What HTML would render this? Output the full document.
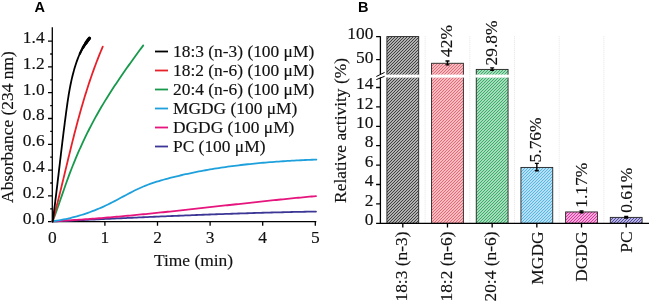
<!DOCTYPE html>
<html><head><meta charset="utf-8"><style>
html,body{margin:0;padding:0;background:#fff;width:649px;height:302px;overflow:hidden}
svg{display:block;will-change:transform}
text{font-family:"Liberation Serif",serif;font-size:17.4px;fill:#111;stroke:#111;stroke-width:0.15px}
.b{font-family:"Liberation Sans",sans-serif;font-weight:bold;font-size:14.5px;fill:#000;stroke:none}
</style></head><body>
<svg width="649" height="302" viewBox="0 0 649 302">
<defs>

<pattern id="pk" patternUnits="userSpaceOnUse" width="3" height="3"><rect width="3" height="3" fill="#e6e6e6"/><path d="M0 3L3 0M-1 1L1 -1M2 4L4 2" stroke="#3a3a3a" stroke-width="1.2"/></pattern>
<pattern id="pr" patternUnits="userSpaceOnUse" width="3" height="3"><rect width="3" height="3" fill="#ffe4e8"/><path d="M0 3L3 0M-1 1L1 -1M2 4L4 2" stroke="#e6646f" stroke-width="1.2"/></pattern>
<pattern id="pg" patternUnits="userSpaceOnUse" width="3" height="3"><rect width="3" height="3" fill="#d7f5e4"/><path d="M0 3L3 0M-1 1L1 -1M2 4L4 2" stroke="#37a964" stroke-width="1.2"/></pattern>
<pattern id="pc" patternUnits="userSpaceOnUse" width="3" height="3"><rect width="3" height="3" fill="#e1f5ff"/><path d="M0 3L3 0M-1 1L1 -1M2 4L4 2" stroke="#53b3e3" stroke-width="1.2"/></pattern>
<pattern id="pm" patternUnits="userSpaceOnUse" width="3" height="3"><rect width="3" height="3" fill="#ffe1f5"/><path d="M0 3L3 0M-1 1L1 -1M2 4L4 2" stroke="#e32ea0" stroke-width="1.2"/></pattern>
<pattern id="pn" patternUnits="userSpaceOnUse" width="3" height="3"><rect width="3" height="3" fill="#e6e6fa"/><path d="M0 3L3 0M-1 1L1 -1M2 4L4 2" stroke="#4f46a5" stroke-width="1.2"/></pattern>
</defs>
<rect width="649" height="302" fill="#fff"/>
<text class="b" x="34.6" y="11.6">A</text>
<path d="M52.3 27.3V222.3 M48 221.7H316.3 M48 221.7H52.3 M48 195.9H52.3 M48 170.1H52.3 M48 144.3H52.3 M48 118.5H52.3 M48 92.7H52.3 M48 66.9H52.3 M48 41.1H52.3 M50.2 208.8H52.3 M50.2 183H52.3 M50.2 157.2H52.3 M50.2 131.4H52.3 M50.2 105.6H52.3 M50.2 79.8H52.3 M50.2 54H52.3 M104.9 221.7V225.7 M157.5 221.7V225.7 M210.1 221.7V225.7 M262.7 221.7V225.7 M315.3 221.7V225.7" stroke="#000" stroke-width="1.3" fill="none"/>
<text x="44.6" y="223.5" text-anchor="end">0.0</text>
<text x="44.6" y="197.7" text-anchor="end">0.2</text>
<text x="44.6" y="171.9" text-anchor="end">0.4</text>
<text x="44.6" y="146.1" text-anchor="end">0.6</text>
<text x="44.6" y="120.3" text-anchor="end">0.8</text>
<text x="44.6" y="94.5" text-anchor="end">1.0</text>
<text x="44.6" y="68.7" text-anchor="end">1.2</text>
<text x="44.6" y="42.9" text-anchor="end">1.4</text>
<text x="52.3" y="242.5" text-anchor="middle">0</text>
<text x="104.9" y="242.5" text-anchor="middle">1</text>
<text x="157.5" y="242.5" text-anchor="middle">2</text>
<text x="210.1" y="242.5" text-anchor="middle">3</text>
<text x="262.7" y="242.5" text-anchor="middle">4</text>
<text x="315.3" y="242.5" text-anchor="middle">5</text>
<text x="154" y="265.5">Time (min)</text>
<text transform="translate(12.6 202.9) rotate(-90)">Absorbance (234 nm)</text>
<path d="M52.5 221.5 L54.71 221.39 L56.93 221.28 L59.14 221.18 L61.36 221.07 L63.57 220.96 L65.79 220.86 L68 220.75 L70.21 220.64 L72.43 220.54 L74.64 220.43 L76.86 220.33 L79.07 220.22 L81.29 220.11 L83.5 220.01 L85.71 219.9 L87.93 219.8 L90.14 219.69 L92.36 219.59 L94.57 219.48 L96.79 219.38 L99 219.27 L101.21 219.17 L103.43 219.07 L105.64 218.96 L107.86 218.86 L110.07 218.75 L112.29 218.65 L114.5 218.55 L116.71 218.45 L118.93 218.34 L121.14 218.24 L123.36 218.14 L125.57 218.04 L127.79 217.94 L130 217.84 L132.21 217.74 L134.43 217.64 L136.64 217.54 L138.86 217.44 L141.07 217.34 L143.29 217.24 L145.5 217.14 L147.71 217.05 L149.93 216.95 L152.14 216.85 L154.36 216.76 L156.57 216.66 L158.79 216.56 L161 216.47 L163.21 216.37 L165.43 216.28 L167.64 216.19 L169.86 216.09 L172.07 216 L174.29 215.91 L176.5 215.82 L178.71 215.73 L180.93 215.64 L183.14 215.55 L185.36 215.46 L187.57 215.37 L189.79 215.28 L192 215.19 L194.21 215.11 L196.43 215.02 L198.64 214.94 L200.86 214.85 L203.07 214.77 L205.29 214.68 L207.5 214.6 L209.71 214.52 L211.93 214.44 L214.14 214.35 L216.36 214.27 L218.57 214.19 L220.79 214.12 L223 214.04 L225.21 213.96 L227.43 213.88 L229.64 213.81 L231.86 213.73 L234.07 213.66 L236.29 213.58 L238.5 213.51 L240.71 213.44 L242.93 213.37 L245.14 213.3 L247.36 213.23 L249.57 213.16 L251.79 213.09 L254 213.02 L256.21 212.96 L258.43 212.89 L260.64 212.83 L262.86 212.76 L265.07 212.7 L267.29 212.64 L269.5 212.58 L271.71 212.52 L273.93 212.46 L276.14 212.4 L278.36 212.34 L280.57 212.29 L282.79 212.23 L285 212.18 L287.21 212.13 L289.43 212.07 L291.64 212.02 L293.86 211.97 L296.07 211.92 L298.29 211.88 L300.5 211.83 L302.71 211.78 L304.93 211.74 L307.14 211.69 L309.36 211.65 L311.57 211.61 L313.79 211.57 L316 211.53" stroke="#3c3796" stroke-width="1.8" fill="none" stroke-linejoin="round" stroke-linecap="round"/>
<path d="M52.5 221.32 L54.71 221.2 L56.93 221.09 L59.14 220.96 L61.36 220.84 L63.57 220.71 L65.79 220.58 L68 220.44 L70.21 220.3 L72.43 220.16 L74.64 220.02 L76.86 219.87 L79.07 219.72 L81.29 219.57 L83.5 219.41 L85.71 219.25 L87.93 219.09 L90.14 218.92 L92.36 218.75 L94.57 218.58 L96.79 218.41 L99 218.24 L101.21 218.06 L103.43 217.88 L105.64 217.69 L107.86 217.51 L110.07 217.32 L112.29 217.13 L114.5 216.94 L116.71 216.74 L118.93 216.55 L121.14 216.35 L123.36 216.15 L125.57 215.94 L127.79 215.74 L130 215.53 L132.21 215.32 L134.43 215.11 L136.64 214.9 L138.86 214.69 L141.07 214.47 L143.29 214.25 L145.5 214.03 L147.71 213.81 L149.93 213.59 L152.14 213.37 L154.36 213.14 L156.57 212.92 L158.79 212.69 L161 212.46 L163.21 212.23 L165.43 212 L167.64 211.77 L169.86 211.53 L172.07 211.3 L174.29 211.06 L176.5 210.83 L178.71 210.59 L180.93 210.35 L183.14 210.11 L185.36 209.87 L187.57 209.63 L189.79 209.39 L192 209.15 L194.21 208.91 L196.43 208.66 L198.64 208.42 L200.86 208.18 L203.07 207.93 L205.29 207.69 L207.5 207.45 L209.71 207.2 L211.93 206.96 L214.14 206.71 L216.36 206.47 L218.57 206.22 L220.79 205.97 L223 205.73 L225.21 205.48 L227.43 205.24 L229.64 204.99 L231.86 204.75 L234.07 204.51 L236.29 204.26 L238.5 204.02 L240.71 203.78 L242.93 203.53 L245.14 203.29 L247.36 203.05 L249.57 202.81 L251.79 202.57 L254 202.33 L256.21 202.09 L258.43 201.85 L260.64 201.61 L262.86 201.38 L265.07 201.14 L267.29 200.91 L269.5 200.67 L271.71 200.44 L273.93 200.21 L276.14 199.98 L278.36 199.75 L280.57 199.52 L282.79 199.3 L285 199.07 L287.21 198.85 L289.43 198.63 L291.64 198.41 L293.86 198.19 L296.07 197.97 L298.29 197.76 L300.5 197.54 L302.71 197.33 L304.93 197.12 L307.14 196.91 L309.36 196.7 L311.57 196.5 L313.79 196.3 L316 196.1" stroke="#e6147d" stroke-width="1.8" fill="none" stroke-linejoin="round" stroke-linecap="round"/>
<path d="M52.5 221.32 L54.72 221.01 L56.94 220.67 L59.15 220.3 L61.37 219.91 L63.59 219.48 L65.81 219.03 L68.02 218.54 L70.24 218.03 L72.46 217.48 L74.68 216.91 L76.89 216.3 L79.11 215.67 L81.33 215 L83.55 214.3 L85.76 213.57 L87.98 212.81 L90.2 212.02 L92.42 211.19 L94.64 210.33 L96.85 209.44 L99.07 208.52 L101.29 207.56 L103.51 206.58 L105.72 205.55 L107.94 204.5 L110.16 203.41 L112.38 202.28 L114.59 201.13 L116.81 199.96 L119.03 198.77 L121.25 197.58 L123.46 196.38 L125.68 195.18 L127.9 194 L130.12 192.83 L132.34 191.69 L134.55 190.57 L136.77 189.49 L138.99 188.45 L141.21 187.46 L143.42 186.51 L145.64 185.61 L147.86 184.76 L150.08 183.95 L152.29 183.17 L154.51 182.43 L156.73 181.72 L158.95 181.04 L161.16 180.38 L163.38 179.75 L165.6 179.14 L167.82 178.55 L170.04 177.97 L172.25 177.4 L174.47 176.85 L176.69 176.3 L178.91 175.77 L181.12 175.25 L183.34 174.74 L185.56 174.24 L187.78 173.76 L189.99 173.28 L192.21 172.82 L194.43 172.36 L196.65 171.92 L198.86 171.49 L201.08 171.06 L203.3 170.65 L205.52 170.24 L207.74 169.85 L209.95 169.47 L212.17 169.09 L214.39 168.73 L216.61 168.37 L218.82 168.02 L221.04 167.68 L223.26 167.35 L225.48 167.03 L227.69 166.72 L229.91 166.42 L232.13 166.12 L234.35 165.83 L236.56 165.55 L238.78 165.28 L241 165.01 L243.22 164.76 L245.44 164.51 L247.65 164.26 L249.87 164.03 L252.09 163.8 L254.31 163.58 L256.52 163.36 L258.74 163.15 L260.96 162.95 L263.18 162.75 L265.39 162.56 L267.61 162.38 L269.83 162.2 L272.05 162.03 L274.26 161.86 L276.48 161.7 L278.7 161.54 L280.92 161.39 L283.14 161.24 L285.35 161.1 L287.57 160.97 L289.79 160.83 L292.01 160.71 L294.22 160.58 L296.44 160.46 L298.66 160.35 L300.88 160.24 L303.09 160.13 L305.31 160.02 L307.53 159.92 L309.75 159.82 L311.96 159.73 L314.18 159.64 L316.4 159.55" stroke="#1ea0dc" stroke-width="1.8" fill="none" stroke-linejoin="round" stroke-linecap="round"/>
<path d="M52.63 221.5 L53.18 220.02 L53.73 218.54 L54.28 217.06 L54.82 215.58 L55.35 214.1 L55.89 212.62 L56.41 211.14 L56.94 209.66 L57.46 208.18 L57.98 206.7 L58.5 205.22 L59.01 203.74 L59.52 202.26 L60.04 200.78 L60.55 199.3 L61.06 197.82 L61.57 196.34 L62.08 194.86 L62.59 193.38 L63.11 191.9 L63.62 190.42 L64.14 188.94 L64.66 187.46 L65.18 185.98 L65.7 184.5 L66.23 183.02 L66.76 181.54 L67.29 180.06 L67.83 178.58 L68.37 177.11 L68.92 175.63 L69.47 174.15 L70.03 172.67 L70.6 171.19 L71.17 169.71 L71.74 168.23 L72.33 166.75 L72.91 165.27 L73.51 163.79 L74.1 162.31 L74.71 160.83 L75.32 159.35 L75.94 157.87 L76.56 156.39 L77.19 154.91 L77.83 153.43 L78.47 151.95 L79.12 150.47 L79.77 148.99 L80.44 147.51 L81.11 146.03 L81.78 144.55 L82.46 143.07 L83.15 141.59 L83.85 140.11 L84.55 138.63 L85.26 137.15 L85.98 135.67 L86.7 134.19 L87.43 132.71 L88.17 131.23 L88.92 129.75 L89.67 128.27 L90.43 126.79 L91.2 125.31 L91.98 123.83 L92.76 122.35 L93.56 120.87 L94.36 119.39 L95.16 117.91 L95.98 116.43 L96.8 114.95 L97.64 113.47 L98.48 111.99 L99.33 110.51 L100.18 109.03 L101.05 107.55 L101.92 106.07 L102.8 104.59 L103.69 103.11 L104.59 101.63 L105.5 100.15 L106.41 98.67 L107.33 97.19 L108.26 95.71 L109.2 94.23 L110.14 92.75 L111.09 91.27 L112.04 89.79 L113.01 88.32 L113.97 86.84 L114.95 85.36 L115.93 83.88 L116.92 82.4 L117.92 80.92 L118.92 79.44 L119.92 77.96 L120.93 76.48 L121.95 75 L122.97 73.52 L124 72.04 L125.04 70.56 L126.07 69.08 L127.12 67.6 L128.17 66.12 L129.22 64.64 L130.28 63.16 L131.34 61.68 L132.41 60.2 L133.48 58.72 L134.55 57.24 L135.63 55.76 L136.71 54.28 L137.8 52.8 L138.89 51.32 L139.98 49.84 L141.08 48.36 L142.18 46.88 L143.28 45.4" stroke="#17994c" stroke-width="1.8" fill="none" stroke-linejoin="round" stroke-linecap="round"/>
<path d="M52.56 221.5 L52.96 220.03 L53.36 218.56 L53.75 217.09 L54.15 215.62 L54.54 214.15 L54.92 212.68 L55.31 211.21 L55.69 209.74 L56.07 208.27 L56.45 206.8 L56.83 205.33 L57.21 203.86 L57.58 202.39 L57.95 200.92 L58.32 199.45 L58.69 197.98 L59.06 196.51 L59.43 195.04 L59.79 193.57 L60.15 192.11 L60.52 190.64 L60.88 189.17 L61.24 187.7 L61.6 186.23 L61.95 184.76 L62.31 183.29 L62.67 181.82 L63.03 180.35 L63.38 178.88 L63.74 177.41 L64.09 175.94 L64.45 174.47 L64.8 173 L65.15 171.53 L65.51 170.06 L65.86 168.59 L66.22 167.12 L66.57 165.65 L66.92 164.18 L67.28 162.71 L67.63 161.24 L67.99 159.77 L68.34 158.3 L68.7 156.83 L69.06 155.36 L69.42 153.89 L69.78 152.42 L70.14 150.95 L70.5 149.48 L70.86 148.01 L71.22 146.54 L71.58 145.07 L71.95 143.6 L72.32 142.13 L72.68 140.66 L73.05 139.19 L73.43 137.72 L73.8 136.25 L74.17 134.78 L74.55 133.32 L74.93 131.85 L75.31 130.38 L75.69 128.91 L76.08 127.44 L76.46 125.97 L76.85 124.5 L77.24 123.03 L77.64 121.56 L78.03 120.09 L78.43 118.62 L78.84 117.15 L79.24 115.68 L79.65 114.21 L80.06 112.74 L80.47 111.27 L80.89 109.8 L81.31 108.33 L81.73 106.86 L82.15 105.39 L82.58 103.92 L83.02 102.45 L83.45 100.98 L83.89 99.51 L84.34 98.04 L84.78 96.57 L85.23 95.1 L85.69 93.63 L86.15 92.16 L86.61 90.69 L87.08 89.22 L87.55 87.75 L88.03 86.28 L88.51 84.81 L88.99 83.34 L89.48 81.87 L89.97 80.4 L90.47 78.93 L90.97 77.46 L91.48 75.99 L92 74.53 L92.51 73.06 L93.04 71.59 L93.56 70.12 L94.1 68.65 L94.64 67.18 L95.18 65.71 L95.73 64.24 L96.28 62.77 L96.84 61.3 L97.41 59.83 L97.98 58.36 L98.56 56.89 L99.14 55.42 L99.73 53.95 L100.33 52.48 L100.93 51.01 L101.54 49.54 L102.15 48.07 L102.77 46.6" stroke="#e8202a" stroke-width="1.8" fill="none" stroke-linejoin="round" stroke-linecap="round"/>
<path d="M52.67 221.5 L52.88 219.96 L53.08 218.42 L53.29 216.88 L53.49 215.34 L53.69 213.8 L53.89 212.26 L54.09 210.72 L54.29 209.18 L54.48 207.64 L54.68 206.11 L54.87 204.57 L55.07 203.03 L55.26 201.49 L55.45 199.95 L55.64 198.41 L55.83 196.87 L56.02 195.33 L56.21 193.79 L56.39 192.25 L56.58 190.71 L56.77 189.17 L56.95 187.63 L57.14 186.09 L57.32 184.55 L57.51 183.01 L57.69 181.47 L57.87 179.93 L58.05 178.39 L58.24 176.85 L58.42 175.32 L58.6 173.78 L58.78 172.24 L58.96 170.7 L59.14 169.16 L59.33 167.62 L59.51 166.08 L59.69 164.54 L59.87 163 L60.05 161.46 L60.23 159.92 L60.42 158.38 L60.6 156.84 L60.78 155.3 L60.96 153.76 L61.15 152.22 L61.33 150.68 L61.51 149.14 L61.7 147.6 L61.88 146.06 L62.07 144.53 L62.25 142.99 L62.44 141.45 L62.63 139.91 L62.82 138.37 L63 136.83 L63.19 135.29 L63.38 133.75 L63.58 132.21 L63.77 130.67 L63.96 129.13 L64.16 127.59 L64.35 126.05 L64.55 124.51 L64.75 122.97 L64.94 121.43 L65.15 119.89 L65.35 118.35 L65.55 116.81 L65.75 115.27 L65.96 113.74 L66.17 112.2 L66.37 110.66 L66.58 109.12 L66.8 107.58 L67.01 106.04 L67.23 104.5 L67.45 102.96 L67.67 101.42 L67.9 99.88 L68.14 98.34 L68.38 96.8 L68.62 95.26 L68.88 93.72 L69.14 92.18 L69.41 90.64 L69.68 89.1 L69.97 87.56 L70.27 86.02 L70.57 84.48 L70.89 82.95 L71.22 81.41 L71.56 79.87 L71.91 78.33 L72.28 76.79 L72.65 75.25 L73.05 73.71 L73.45 72.17 L73.88 70.63 L74.31 69.09 L74.77 67.55 L75.24 66.01 L75.73 64.47 L76.23 62.93 L76.76 61.39 L77.32 59.85 L77.9 58.31 L78.51 56.77 L79.16 55.23 L79.85 53.69 L80.57 52.16 L81.34 50.62 L82.16 49.08 L83.02 47.54 L83.94 46 L84.92 44.46 L85.95 42.92 L87.05 41.38 L88.21 39.84 L89.44 38.3" stroke="#000" stroke-width="1.8" fill="none" stroke-linejoin="round" stroke-linecap="round"/>
<path d="M79.85 53.69 L80.57 52.16 L81.34 50.62 L82.16 49.08 L83.02 47.54 L83.94 46 L84.92 44.46 L85.95 42.92 L87.05 41.38 L88.21 39.84 L89.44 38.3" stroke="#000" stroke-width="2.2" fill="none" stroke-linejoin="round" stroke-linecap="round"/>
<path d="M83.02 47.54 L83.94 46 L84.92 44.46 L85.95 42.92 L87.05 41.38 L88.21 39.84 L89.44 38.3" stroke="#000" stroke-width="2.7" fill="none" stroke-linejoin="round" stroke-linecap="round"/>
<path d="M85.95 42.92 L87.05 41.38 L88.21 39.84 L89.44 38.3" stroke="#000" stroke-width="3.3" fill="none" stroke-linejoin="round" stroke-linecap="round"/>
<path d="M155 51.5H168" stroke="#000" stroke-width="1.8"/>
<text x="173" y="56.6">18:3 (n-3) (100 μM)</text>
<path d="M155 70.5H168" stroke="#e8202a" stroke-width="1.8"/>
<text x="173" y="75.6">18:2 (n-6) (100 μM)</text>
<path d="M155 89.5H168" stroke="#17994c" stroke-width="1.8"/>
<text x="173" y="94.6">20:4 (n-6) (100 μM)</text>
<path d="M155 108.5H168" stroke="#1ea0dc" stroke-width="1.8"/>
<text x="173" y="113.6">MGDG (100 μM)</text>
<path d="M155 127.5H168" stroke="#e6147d" stroke-width="1.8"/>
<text x="173" y="132.6">DGDG (100 μM)</text>
<path d="M155 146.5H168" stroke="#3c3796" stroke-width="1.8"/>
<text x="173" y="151.6">PC (100 μM)</text>
<text class="b" x="358" y="11.6">B</text>
<path d="M425.15 36.3V223.3" stroke="#e4e4e4" stroke-width="1" stroke-dasharray="1 1"/>
<path d="M469.83 36.3V223.3" stroke="#e4e4e4" stroke-width="1" stroke-dasharray="1 1"/>
<path d="M514.51 36.3V223.3" stroke="#e4e4e4" stroke-width="1" stroke-dasharray="1 1"/>
<path d="M559.19 36.3V223.3" stroke="#e4e4e4" stroke-width="1" stroke-dasharray="1 1"/>
<path d="M603.87 36.3V223.3" stroke="#e4e4e4" stroke-width="1" stroke-dasharray="1 1"/>
<rect x="386.9" y="36.6" width="31.8" height="186.7" fill="url(#pk)" stroke="#222" stroke-width="0.9"/>
<rect x="385.9" y="74.6" width="33.8" height="3" fill="#fff"/>
<rect x="431.58" y="63.28" width="31.8" height="160.02" fill="url(#pr)" stroke="#222" stroke-width="0.9"/>
<rect x="430.58" y="74.6" width="33.8" height="3" fill="#fff"/>
<rect x="476.26" y="69.4" width="31.8" height="153.9" fill="url(#pg)" stroke="#222" stroke-width="0.9"/>
<rect x="475.26" y="74.6" width="33.8" height="3" fill="#fff"/>
<rect x="520.94" y="167.43" width="31.8" height="55.87" fill="url(#pc)" stroke="#222" stroke-width="0.9"/>
<rect x="565.62" y="211.95" width="31.8" height="11.35" fill="url(#pm)" stroke="#222" stroke-width="0.9"/>
<rect x="610.3" y="217.38" width="31.8" height="5.92" fill="url(#pn)" stroke="#222" stroke-width="0.9"/>
<rect x="379.4" y="74.2" width="2" height="3.4" fill="#fff"/>
<path d="M380.4 36.3V74.2 M380.4 77.6V223.3 M380.4 223.3H649 M376.1 36.6H380.4 M376.1 59.6H380.4 M376.1 223.3H380.4 M376.1 203.9H380.4 M376.1 184.5H380.4 M376.1 165.1H380.4 M376.1 145.7H380.4 M376.1 126.3H380.4 M376.1 106.9H380.4 M376.1 87.5H380.4 M402.8 223.3V227.6 M447.48 223.3V227.6 M492.16 223.3V227.6 M536.84 223.3V227.6 M581.52 223.3V227.6 M626.2 223.3V227.6" stroke="#000" stroke-width="1.3" fill="none"/>
<path d="M376.3 76.5L384.6 72.4M376.3 79.6L384.6 76.3" stroke="#000" stroke-width="1" fill="none"/>
<path d="M447.48 61V64.9M445.48 61H449.48M445.48 64.9H449.48" stroke="#000" stroke-width="1.4" fill="none"/>
<path d="M492.16 67.9V70.4M490.16 67.9H494.16M490.16 70.4H494.16" stroke="#000" stroke-width="1.4" fill="none"/>
<path d="M536.84 163.4V170.8M534.84 163.4H538.84M534.84 170.8H538.84" stroke="#000" stroke-width="1.4" fill="none"/>
<path d="M581.52 211V212.8M579.52 211H583.52M579.52 212.8H583.52" stroke="#000" stroke-width="1.4" fill="none"/>
<path d="M626.2 216.5V218M624.2 216.5H628.2M624.2 218H628.2" stroke="#000" stroke-width="1.4" fill="none"/>
<text x="373.4" y="38.6" text-anchor="end">100</text>
<text x="373.4" y="62.9" text-anchor="end">50</text>
<text x="373.4" y="224.9" text-anchor="end">0</text>
<text x="373.4" y="205.5" text-anchor="end">2</text>
<text x="373.4" y="186.1" text-anchor="end">4</text>
<text x="373.4" y="166.7" text-anchor="end">6</text>
<text x="373.4" y="147.3" text-anchor="end">8</text>
<text x="373.4" y="127.9" text-anchor="end">10</text>
<text x="373.4" y="108.5" text-anchor="end">12</text>
<text x="373.4" y="89.1" text-anchor="end">14</text>
<text transform="translate(346 202.9) rotate(-90)">Relative activity (%)</text>
<text transform="translate(452.48 57) rotate(-90)">42%</text>
<text transform="translate(497.16 65.5) rotate(-90)">29.8%</text>
<text transform="translate(541.14 162.4) rotate(-90)">5.76%</text>
<text transform="translate(587.32 207.7) rotate(-90)">1.17%</text>
<text transform="translate(631.5 212.8) rotate(-90)">0.61%</text>
<text transform="translate(407 231.5) rotate(-90)" text-anchor="end">18:3 (n-3)</text>
<text transform="translate(451.68 231.5) rotate(-90)" text-anchor="end">18:2 (n-6)</text>
<text transform="translate(496.36 231.5) rotate(-90)" text-anchor="end">20:4 (n-6)</text>
<text transform="translate(542.64 231.5) rotate(-90)" text-anchor="end">MGDG</text>
<text transform="translate(587.32 231.5) rotate(-90)" text-anchor="end">DGDG</text>
<text transform="translate(632 231.5) rotate(-90)" text-anchor="end">PC</text>
</svg></body></html>
